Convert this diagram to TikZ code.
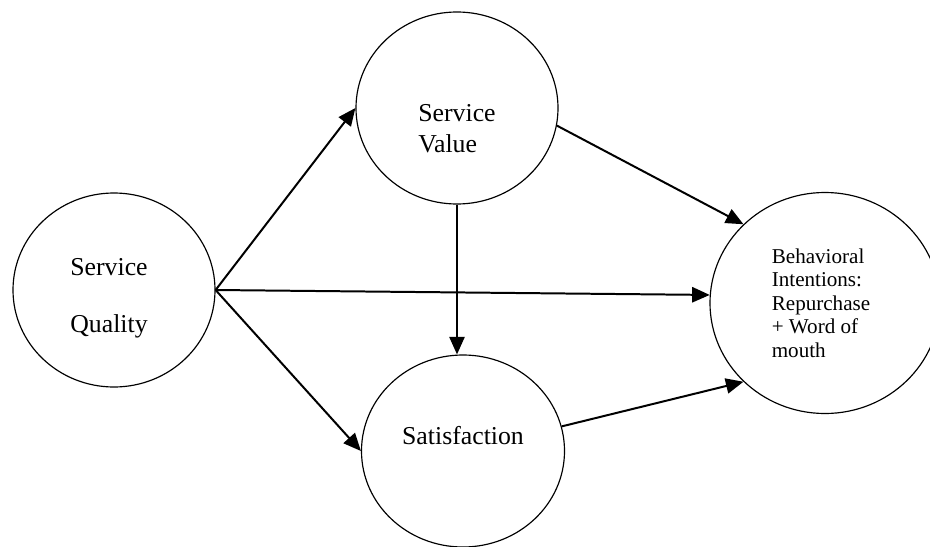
\documentclass[tikz,border=0pt]{standalone}
\usepackage{fontspec}
\setmainfont{Liberation Serif}
\usetikzlibrary{shapes.geometric,arrows.meta,positioning}

\begin{document}
\begin{tikzpicture}[x=0.03cm,y=0.03cm,
  bubble/.style={draw,ellipse,line width=1pt,inner sep=0pt},
  txt/.style={font=\fontsize{22}{26.5}\selectfont,align=left},
  link/.style={line width=1.7pt,-{Triangle[length=15pt,width=13pt]}}]

 \useasboundingbox (0,0) rectangle (930,546);

 % the four constructs
 \node[bubble,minimum width=6.06cm,minimum height=5.82cm,
   label={[txt,font=\fontsize{22}{49}\selectfont,xshift=-0.15cm,yshift=-0.25cm]center:{Service\\Quality}}] (sq) at (114,256) {};

 \node[bubble,minimum width=6.06cm,minimum height=5.76cm,
   label={[txt,yshift=-0.63cm]center:{Service\\Value}}] (sv) at (457,438) {};

 \node[bubble,minimum width=6.09cm,minimum height=5.76cm,
   label={[txt,yshift=0.45cm]center:Satisfaction}] (sat) at (463,95) {};

 \node[bubble,minimum width=6.9cm,minimum height=6.63cm,
   label={[txt,font=\fontsize{18}{20}\selectfont,xshift=-0.12cm]center:{Behavioral\\Intentions:\\Repurchase\\+ Word of\\mouth}}] (bi) at (825,243) {};

 % paths
 \draw[link] (sq.east) -- (sv.west);
 \draw[link] (sq.east) -- (bi.176);
 \draw[link] (sq.east) -- (sat.west);
 \draw[link] (sv.south) -- (sv.south |- sat.north);
 \draw[link] (sv.-10) -- (bi.136);
 \draw[link] (sat.14) -- (bi.224);

\end{tikzpicture}
\end{document}
